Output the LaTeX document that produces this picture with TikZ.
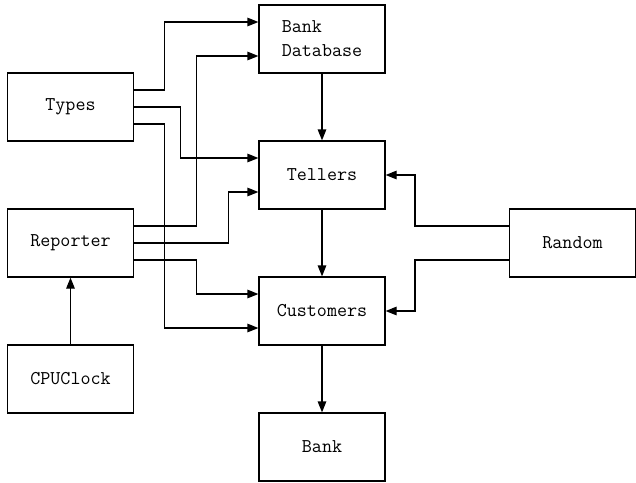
\documentclass[tikz,border=0pt]{standalone}
\usetikzlibrary{arrows.meta}
\begin{document}
\begin{tikzpicture}[x=1pt,y=-1pt,
  box/.style={draw,line width=1.2pt,minimum width=126pt,minimum height=68pt,inner sep=0pt,
    font=\ttfamily\fontsize{19.5}{24}\selectfont,align=left},
  arr/.style={line width=1.2pt,-{Triangle[length=11pt,width=8.5pt]}}]
\useasboundingbox (0,0) rectangle (636,482);
\node[box] (types) at (70.5,107) {Types};
\node[box] (bankdb) at (322,39) {Bank\\Database};
\node[box] (tellers) at (322,175) {Tellers};
\node[box] (reporter) at (70.5,243) {Reporter};
\node[box] (customers) at (322,311) {Customers};
\node[box] (cpuclock) at (70.5,379) {CPUClock};
\node[box] (bank) at (322,447) {Bank};
\node[box] (random) at (572.5,243) {Random};
% Types
\draw[arr] ([yshift=17pt]types.east) -- ++(30,0) |- ([yshift=17pt]bankdb.west);
\draw[arr] (types.east) -- ++(46,0) |- ([yshift=17pt]tellers.west);
\draw[arr] ([yshift=-17pt]types.east) -- ++(30,0) |- ([yshift=-17pt]customers.west);
% Reporter
\draw[arr] ([yshift=17pt]reporter.east) -- ++(62,0) |- ([yshift=-17pt]bankdb.west);
\draw[arr] (reporter.east) -- ++(94,0) |- ([yshift=-17pt]tellers.west);
\draw[arr] ([yshift=-17pt]reporter.east) -- ++(62,0) |- ([yshift=17pt]customers.west);
% Random
\draw[arr] ([yshift=17pt]random.west) -- ++(-94,0) |- (tellers.east);
\draw[arr] ([yshift=-17pt]random.west) -- ++(-94,0) |- (customers.east);
% verticals
\draw[arr] (cpuclock.north) -- (reporter.south);
\draw[arr] (bankdb.south) -- (tellers.north);
\draw[arr] (tellers.south) -- (customers.north);
\draw[arr] (customers.south) -- (bank.north);
\end{tikzpicture}
\end{document}
